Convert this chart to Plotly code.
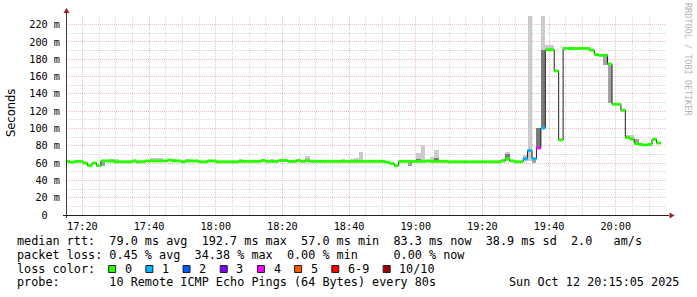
import datetime as dt
import plotly.graph_objects as go

# ---------------- data ----------------
START = dt.datetime(2025, 10, 12, 17, 14, 53)   # start of first 80 s step
STEP_S = 80
RANGE_START = dt.datetime(2025, 10, 12, 17, 15, 5)
RANGE_END = dt.datetime(2025, 10, 12, 20, 15, 5)

# median rtt per 80 s step (ms)
median_ms = [
    62, 61, 62, 62, 60, 57, 60, 57, 62.5, 62.5,
    62.5, 61.5, 61.5, 61.5, 61.5, 62.5, 61.5, 61.5, 62.5, 62.5,
    62.5, 62.5, 62.5, 63.5, 62.5, 62.5, 61.5, 62.5, 62.5, 62.5,
    61.5, 61.5, 62.5, 62.5, 61.5, 61.5, 61.5, 61.5, 61.5, 62,
    62, 62, 62, 62, 63, 62, 62, 62, 63, 63,
    62, 62, 63, 62, 63, 62, 62, 62, 62, 62,
    62, 62, 62, 62, 62, 62, 62, 62, 62, 62,
    62, 62, 61, 59.5, 57, 62, 62, 62, 62, 62,
    62, 62.5, 62, 62, 62, 62, 61.5, 61.5, 61.5, 61.5,
    61.5, 61.5, 61.5, 61.5, 61.5, 61.5, 61.5, 61.5, 62.5, 65,
    62.5, 61.5, 61.5, 65, 74.5, 65, 77.5, 100.5, 191, 191,
    166.5, 86.7, 192.5, 192.5, 192.5, 192.5, 192.5, 192.5, 190.5, 185.5,
    184.5, 184.5, 174.5, 128, 128, 121, 89.5, 88, 82.5, 81.5,
    81, 81.5, 87.5, 83.3,
]

# steps with packet loss (count of 10)
loss_steps = [103, 104, 105, 106, 107]
loss_counts = [1, 1, 1, 4, 1]

# smoke (ping spread) bars: step, low, high, density level
smoke_step = [8, 10, 11, 19, 20, 21, 24, 27, 39, 46, 54, 62, 64, 65, 66, 77,
              79, 79, 80, 82, 83, 83, 98, 99, 99, 103, 104, 105, 106, 107, 107,
              108, 109, 114, 121, 122, 126, 127, 128, 129]
smoke_lo = [57, 61, 61, 61, 61, 61, 61, 61, 61, 61, 61, 61, 61, 61, 61, 57,
            61, 62.5, 61, 61, 61, 62.5, 61, 62, 64.7, 62, 62, 60, 77.5, 100, 100,
            189, 189, 191, 173.4, 129, 88, 86, 82, 80]
smoke_hi = [63, 64.7, 64.7, 65.5, 66.3, 65.5, 64.3, 64.7, 64.7, 64.7, 68.5, 64.7, 64.7, 66.3, 73, 61.5,
            71.7, 64.7, 81, 67, 75, 66, 65, 73.2, 70.5, 69, 260, 65, 100, 260, 190.5,
            196.5, 196.5, 194.5, 185, 174.5, 92.5, 92.5, 88, 83.5]
smoke_level = [2, 1, 1, 1, 1, 1, 1, 1, 1, 1, 1, 1, 1, 1, 1, 2,
               1, 3, 1, 1, 1, 3, 1, 1, 3, 1, 1, 2, 3, 1, 3,
               1, 1, 1, 2, 2, 1, 1, 2, 1]

y_tick_vals = [0, 20, 40, 60, 80, 100, 120, 140, 160, 180, 200, 220]
y_tick_text = ["0\u00a0\u00a0", "20 m", "40 m", "60 m", "80 m", "100 m", "120 m",
               "140 m", "160 m", "180 m", "200 m", "220 m"]

loss_legend_labels = ["0", "1", "2", "3", "4", "5", "6-9", "10/10"]
loss_legend_colors = ["#26ff00", "#00b8ff", "#0059ff", "#7e00ff",
                      "#ff00ff", "#ff5500", "#ff0000", "#a10000"]

legend_line1 = "median rtt:  79.0 ms avg  192.7 ms max  57.0 ms min  83.3 ms now  38.9 ms sd  2.0   am/s"
legend_line2 = "packet loss: 0.45 % avg  34.38 % max  0.00 % min     0.00 % now"
legend_line3 = "loss color:"
legend_line4 = "probe:       10 Remote ICMP Echo Pings (64 Bytes) every 80s"
legend_date = "Sun Oct 12 20:15:05 2025"
watermark = "RRDTOOL / TOBI OETIKER"

# ---------------- styling ----------------
W, H = 697, 297
ML, MT, PW, PH = 66, 16, 600, 199
MONO = "DejaVu Sans Mono"
SWIDTH = 1.7          # half thickness of median band (ms)
SHADES = {1: "#cbcbcb", 2: "#a2a2a2", 3: "#7a7a7a"}
MAJOR_GRID = "#efbcbc"
MINOR_GRID = "#d9d9d9"
CHAR_W = 7.09


def px_x(px):
    return (px - ML) / PW


def px_y(py):
    return (MT + PH - py) / PH


def nb(s):
    return s.replace(" ", "\u00a0")


def loss_color(n):
    if n <= 5:
        return loss_legend_colors[n]
    if n < 10:
        return loss_legend_colors[6]
    return loss_legend_colors[7]


n = len(median_ms)
step = dt.timedelta(seconds=STEP_S)
starts = [START + i * step for i in range(n)]
ends = [s + step for s in starts]
loss = [0] * n
for s_i, c in zip(loss_steps, loss_counts):
    loss[s_i] = c

fig = go.Figure()

# smoke bars
for lvl in (1, 2, 3):
    idx = [i for i, l in enumerate(smoke_level) if l == lvl]
    fig.add_trace(go.Bar(
        x=[starts[smoke_step[i]] + step / 2 for i in idx],
        base=[smoke_lo[i] for i in idx],
        y=[smoke_hi[i] - smoke_lo[i] for i in idx],
        width=STEP_S * 1000,
        marker=dict(color=SHADES[lvl], line=dict(width=0)),
        hoverinfo="skip",
    ))

# median connecting line
fig.add_trace(go.Scatter(
    x=starts + [ends[-1]], y=median_ms + [median_ms[-1]],
    mode="lines", line=dict(shape="hv", color="#202020", width=1),
    hoverinfo="skip",
))

# loss-coloured median bands
colors_used = sorted(set(loss_color(l) for l in loss), key=loss_legend_colors.index)
for col in colors_used:
    xs, ys = [], []
    for i in range(n):
        if loss_color(loss[i]) == col:
            xs += [starts[i], ends[i], None]
            ys += [median_ms[i], median_ms[i], None]
    fig.add_trace(go.Scatter(
        x=xs, y=ys, mode="lines", connectgaps=False,
        line=dict(color=col, width=SWIDTH * 2 * PH / 230),
        hoverinfo="skip",
    ))

shapes = []
# axes lines and arrows
shapes.append(dict(type="line", xref="paper", yref="paper",
                   x0=px_x(66.5), x1=px_x(66.5), y0=px_y(218), y1=px_y(12),
                   line=dict(color="#3a3a3a", width=1)))
shapes.append(dict(type="line", xref="paper", yref="paper",
                   x0=px_x(63), x1=px_x(669), y0=px_y(215.5), y1=px_y(215.5),
                   line=dict(color="#202020", width=1)))
shapes.append(dict(type="path", xref="paper", yref="paper",
                   path=f"M {px_x(66.5)} {px_y(8)} L {px_x(63.5)} {px_y(13)} L {px_x(69.5)} {px_y(13)} Z",
                   fillcolor="#a31c1c", line=dict(width=0)))
shapes.append(dict(type="path", xref="paper", yref="paper",
                   path=f"M {px_x(674.5)} {px_y(215.5)} L {px_x(669.5)} {px_y(212.5)} L {px_x(669.5)} {px_y(218.5)} Z",
                   fillcolor="#a31c1c", line=dict(width=0)))

annotations = []
legend_x = 16
baselines = [245.3, 259.0, 272.7, 286.3]
for text, bl in zip([legend_line1, legend_line2, legend_line3, legend_line4], baselines):
    annotations.append(dict(xref="paper", yref="paper", x=px_x(legend_x - 1), y=px_y(bl - 4.2),
                            xanchor="left", yanchor="middle", showarrow=False,
                            text=nb(text), font=dict(family=MONO, size=11.8, color="#000")))
annotations.append(dict(xref="paper", yref="paper", x=px_x(681), y=px_y(baselines[3] - 4.2),
                        xanchor="right", yanchor="middle", showarrow=False,
                        text=nb(legend_date), font=dict(family=MONO, size=11.8, color="#000")))

# loss colour legend boxes
bx = legend_x + 13 * CHAR_W
for lab, col in zip(loss_legend_labels, loss_legend_colors):
    shapes.append(dict(type="rect", xref="paper", yref="paper",
                       x0=px_x(bx + 0.5), x1=px_x(bx + 7.5), y0=px_y(265.5), y1=px_y(272.5),
                       fillcolor=col, line=dict(color="#202020", width=1)))
    lx = bx + 15.7
    annotations.append(dict(xref="paper", yref="paper", x=px_x(lx - 1), y=px_y(baselines[2] - 4.2),
                            xanchor="left", yanchor="middle", showarrow=False,
                            text=nb(lab), font=dict(family=MONO, size=11.8, color="#000")))
    bx = lx + len(lab) * CHAR_W + 14.4

# y title
annotations.append(dict(xref="paper", yref="paper", x=px_x(11), y=px_y(113),
                        xanchor="center", yanchor="middle", showarrow=False, textangle=-90,
                        text="Seconds", font=dict(family="DejaVu Sans", size=11.5, color="#000")))
# watermark
annotations.append(dict(xref="paper", yref="paper", x=px_x(688.5), y=px_y(59.5),
                        xanchor="center", yanchor="middle", showarrow=False, textangle=90,
                        text=nb(watermark), font=dict(family=MONO, size=8.5, color="#b4b4b4")))

fig.update_layout(
    width=W, height=H,
    margin=dict(l=ML, r=W - ML - PW, t=MT, b=H - MT - PH, pad=0),
    paper_bgcolor="#ffffff", plot_bgcolor="#ffffff",
    showlegend=False, barmode="overlay", bargap=0,
    shapes=shapes, annotations=annotations,
    xaxis=dict(
        type="date", range=[RANGE_START, RANGE_END],
        tickmode="linear", tick0="2025-10-12 17:20:00", dtick=20 * 60 * 1000,
        tickformat="%H:%M", ticks="", ticklabelstandoff=4,
        tickfont=dict(family=MONO, size=10.2, color="#000"),
        showgrid=True, gridcolor=MAJOR_GRID, griddash="1px,1px", gridwidth=1,
        minor=dict(tickmode="linear", tick0="2025-10-12 17:20:00", dtick=5 * 60 * 1000,
                   showgrid=True, gridcolor=MINOR_GRID, griddash="1px,1px", gridwidth=1),
        showline=False, zeroline=False, fixedrange=True,
    ),
    yaxis=dict(
        range=[0, 230], tickmode="array", tickvals=y_tick_vals, ticktext=y_tick_text,
        ticks="", ticklabelstandoff=5,
        tickfont=dict(family=MONO, size=10.2, color="#000"),
        showgrid=True, gridcolor=MAJOR_GRID, griddash="1px,1px", gridwidth=1,
        minor=dict(tickmode="linear", tick0=0, dtick=10,
                   showgrid=True, gridcolor=MINOR_GRID, griddash="1px,1px", gridwidth=1),
        showline=False, zeroline=False, fixedrange=True,
    ),
)

fig.write_html("out.html")
